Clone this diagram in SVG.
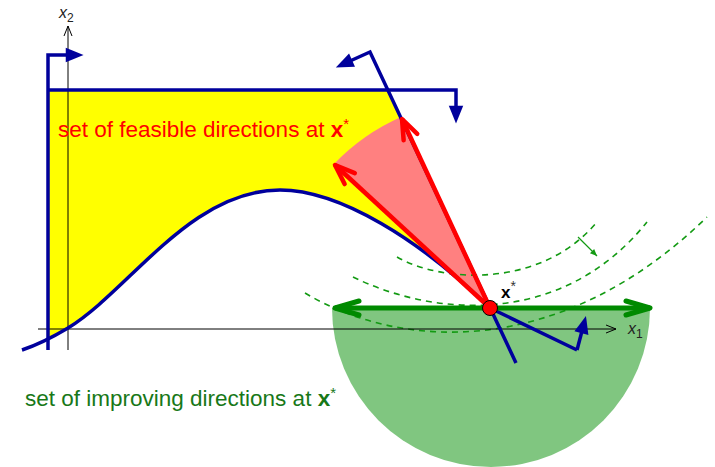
<svg xmlns="http://www.w3.org/2000/svg" width="715" height="467" viewBox="0 0 715 467">
<defs>
<style>
.blue{fill:none;stroke:#00009c;stroke-width:3.5;stroke-linejoin:miter}
.red{fill:none;stroke:#ff0000;stroke-width:4.5}
.grn{fill:none;stroke:#008a00;stroke-width:5}
.dash{fill:none;stroke:#139a13;stroke-width:1.6;stroke-dasharray:6,5}
.axis{fill:none;stroke:#000;stroke-width:1}
.lbl{font-family:"Liberation Sans",Arial,sans-serif}
</style>
<marker id="bhead" markerUnits="userSpaceOnUse" orient="auto" refX="0" refY="0" markerWidth="20" markerHeight="20" viewBox="-16 -8 18 16" overflow="visible">
<path d="M-2,-6.5 L14,0 L-2,6.5 Z" fill="#00009c"/>
</marker>
<marker id="rhead" markerUnits="userSpaceOnUse" orient="auto" refX="0" refY="0" markerWidth="30" markerHeight="30" viewBox="-25 -10 30 20" overflow="visible">
<path d="M-20,-7.5 L0,0 L-20,7.5" fill="none" stroke="#ff0000" stroke-width="4.5" stroke-linejoin="round" stroke-linecap="round"/>
</marker>
<marker id="ghead" markerUnits="userSpaceOnUse" orient="auto-start-reverse" refX="0" refY="0" markerWidth="30" markerHeight="30" viewBox="-25 -10 30 20" overflow="visible">
<path d="M-24,-7 L0,0 L-24,7" fill="none" stroke="#008a00" stroke-width="5" stroke-linejoin="round" stroke-linecap="round"/>
</marker>
<marker id="ahead" markerUnits="userSpaceOnUse" orient="auto" refX="0" refY="0" markerWidth="14" markerHeight="14" viewBox="-12 -6 14 12" overflow="visible">
<path d="M-10,-4 L0,0 L-10,4" fill="none" stroke="#000" stroke-width="1"/>
</marker>
<marker id="shead" markerUnits="userSpaceOnUse" orient="auto" refX="0" refY="0" markerWidth="10" markerHeight="10" viewBox="-8 -4 10 8" overflow="visible">
<path d="M-7,-3 L0,0 L-7,3 Z" fill="#139a13"/>
</marker>
</defs>

<g id="feasible-region">
<path d="M48,90 L388,90 L490,308 C420,240 340,190 280,190 C190,190 130,290 68,328 L48,339 Z" fill="#ffff00"/>
</g>

<g id="feasible-cone">
<path d="M490,308 L401,117 A211,211 0 0,0 334,164 Z" fill="#ff8080"/>
</g>

<g id="improving-halfdisk">
<path d="M332,308 A159,159 0 0,0 650,308 Z" fill="#80c680"/>
</g>

<g id="level-curves">
<path class="dash" d="M397,257 C440,282 540,290 597,222"/>
<path class="dash" d="M353,277 C430,315 560,330 647,222"/>
<path class="dash" d="M305,293 C400,350 560,360 707,217"/>
<line x1="578" y1="237" x2="597" y2="256" stroke="#139a13" stroke-width="1.2" marker-end="url(#shead)"/>
</g>

<g id="axes">
<line class="axis" x1="38" y1="329" x2="616" y2="329" marker-end="url(#ahead)"/>
<line class="axis" x1="68" y1="350" x2="68" y2="26" marker-end="url(#ahead)"/>
<text class="lbl" x="59" y="18" font-size="16" font-style="italic" fill="#222">x<tspan dy="4" font-size="12" font-style="normal">2</tspan></text>
<text class="lbl" x="628" y="334" font-size="16" font-style="italic" fill="#222">x<tspan dy="4" font-size="12" font-style="normal">1</tspan></text>
</g>

<g id="constraints">
<polyline class="blue" points="48,350 48,55 68,55" marker-end="url(#bhead)"/>
<polyline class="blue" points="48,90 456,90 456,108" marker-end="url(#bhead)"/>
<polyline class="blue" points="516,363 370,52 350,61" marker-end="url(#bhead)"/>
<path class="blue" d="M22,350 Q43,343 68,328 C130,290 190,190 280,190 C340,190 420,240 490,308 L577,350"/>
<polyline class="blue" points="577,350 582,331" marker-end="url(#bhead)"/>
</g>

<g id="connectors">
<line class="red" x1="490" y1="308" x2="402" y2="119" marker-end="url(#rhead)"/>
<line class="red" x1="490" y1="308" x2="335" y2="165" marker-end="url(#rhead)"/>
<line class="grn" x1="335" y1="308" x2="650" y2="308" marker-start="url(#ghead)" marker-end="url(#ghead)"/>
</g>

<g id="xstar">
<circle cx="490" cy="308" r="7.5" fill="#ff0000" stroke="#000" stroke-width="1"/>
<text class="lbl" x="501" y="298" font-size="17" font-weight="bold" fill="#000">x<tspan dy="-7" font-size="14" font-weight="normal" fill="#333">*</tspan></text>
</g>

<g id="label-feasible">
<text class="lbl" x="58" y="137" font-size="22.5" fill="#ff0000">set of feasible directions at <tspan font-weight="bold">x</tspan><tspan dy="-8" font-size="15">*</tspan></text>
</g>

<g id="label-improving">
<text class="lbl" x="25" y="406" font-size="22.5" fill="#187818">set of improving directions at <tspan font-weight="bold">x</tspan><tspan dy="-8" font-size="15">*</tspan></text>
</g>
</svg>
